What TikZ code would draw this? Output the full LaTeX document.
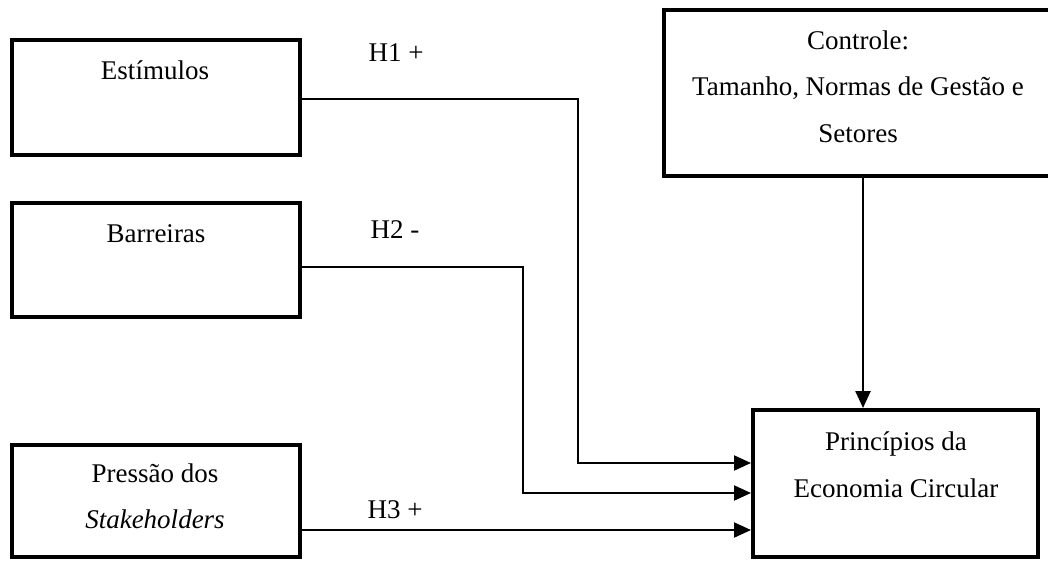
\documentclass[tikz,border=0pt]{standalone}
\usepackage{fontspec}
\setmainfont{Liberation Serif}
\usetikzlibrary{arrows.meta}
\tikzset{
  box/.style={draw, line width=4pt, rectangle, inner sep=0pt},
  lbl/.style={anchor=base, inner sep=0pt, font=\fontsize{27}{32}\selectfont},
  conn/.style={draw, line width=2pt, -{Triangle[length=17pt,width=15pt]}},
}
\begin{document}
\begin{tikzpicture}[x=1pt,y=-1pt]
\useasboundingbox (0,0) rectangle (1048,561);
% boxes
\node[box, minimum width=288pt, minimum height=115pt] (est) at (156,97.5) {};
\node[box, minimum width=288pt, minimum height=114pt] (bar) at (156,260) {};
\node[box, minimum width=288pt, minimum height=112pt] (pre) at (156,501) {};
\node[box, minimum width=388pt, minimum height=165.5pt] (ctl) at (858,93.25) {};
\node[box, minimum width=285pt, minimum height=147pt] (pri) at (895.5,483.5) {};
% texts
\node[lbl] (est-t) at (155,80) {Estímulos};
\node[lbl] (bar-t) at (156,243) {Barreiras};
\node[lbl] (pre-t1) at (155,482) {Pressão dos};
\node[lbl] (pre-t2) at (155,528) {\itshape Stakeholders};
\node[lbl] (ctl-t1) at (858,50) {Controle:};
\node[lbl] (ctl-t2) at (858,96) {Tamanho, Normas de Gestão e};
\node[lbl] (ctl-t3) at (858,143) {Setores};
\node[lbl] (pri-t1) at (896,450) {Princípios da};
\node[lbl] (pri-t2) at (896,497) {Economia Circular};
\node[lbl] (h1) at (396,62) {H1 +};
\node[lbl] (h2) at (395,238) {H2 -};
\node[lbl] (h3) at (395,518) {H3 +};
% connector coordinates
\coordinate (a1) at (578,99);
\coordinate (a2) at (578,463);
\coordinate (b1) at (523,267);
\coordinate (b2) at (523,493);
\coordinate (c1) at (400,530);
\coordinate (d1) at (863,200);
% connectors
\draw[conn] (est.east |- a1) -- (a1) -- (a2) -- (pri.west |- a2);
\draw[conn] (bar.east |- b1) -- (b1) -- (b2) -- (pri.west |- b2);
\draw[conn] (pre.east |- c1) -- (pri.west |- c1);
\draw[conn, line width=2.5pt] (ctl.south -| d1) -- (pri.north -| d1);
\end{tikzpicture}
\end{document}
